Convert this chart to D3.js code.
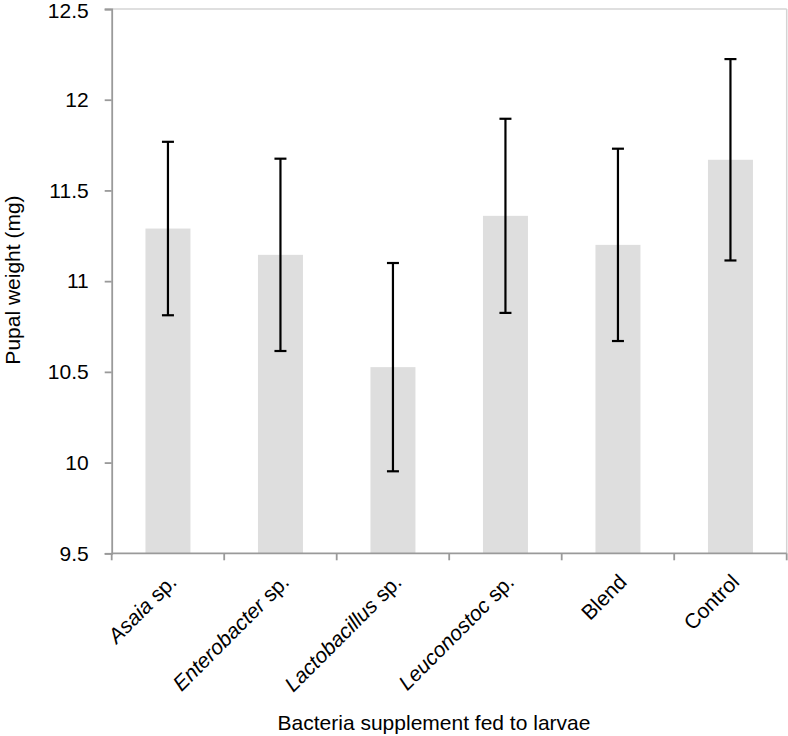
<!DOCTYPE html>
<html>
<head>
<meta charset="utf-8">
<script src="https://cdn.jsdelivr.net/npm/d3@7"></script>
<style>
  html, body { margin: 0; padding: 0; background: #fff; }
  svg { display: block; font-family: "Liberation Sans", Arial, sans-serif; }
</style>
</head>
<body>
<svg id="chart" width="788" height="736"></svg>
<script>
// ---- data ----
const categories = ["Asaia sp.", "Enterobacter sp.", "Lactobacillus sp.", "Leuconostoc sp.", "Blend", "Control"];
const italicParts = ["Asaia", "Enterobacter", "Lactobacillus", "Leuconostoc", "", ""];
const plainParts = [" sp.", " sp.", " sp.", " sp.", "Blend", "Control"];
const means = [11.29, 11.145, 10.526, 11.36, 11.20, 11.669];
const errors = [0.478, 0.53, 0.574, 0.535, 0.53, 0.555];
const yTicks = [9.5, 10, 10.5, 11, 11.5, 12, 12.5];
const yTickLabels = ["9.5", "10", "10.5", "11", "11.5", "12", "12.5"];
const yTitle = "Pupal weight (mg)";
const xTitle = "Bacteria supplement fed to larvae";

// ---- layout ----
const svg = d3.select("#chart");
const mLeft = 111.7, mRight = 786.7, mTop = 9, mBottom = 553.3;
const fontSize = 21;
const axisColor = "#9a9a9a";

const x = d3.scaleBand().domain(categories).range([mLeft, mRight]).paddingInner(0.6).paddingOuter(0.3);
const xTick = d3.scaleBand().domain(categories).range([mLeft, mRight]);
const y = d3.scaleLinear().domain([9.5, 12.5]).range([mBottom, mTop]);

// plot border (top & right)
svg.append("line").attr("x1", mLeft).attr("x2", mRight).attr("y1", mTop).attr("y2", mTop)
  .attr("stroke", "#d4d4d4").attr("stroke-width", 1.5);
svg.append("line").attr("x1", mRight).attr("x2", mRight).attr("y1", mTop).attr("y2", mBottom)
  .attr("stroke", "#d4d4d4").attr("stroke-width", 1.5);

// bars
svg.append("g").selectAll("rect").data(categories).join("rect")
  .attr("x", d => x(d))
  .attr("width", x.bandwidth())
  .attr("y", (d, i) => y(means[i]))
  .attr("height", (d, i) => y(9.5) - y(means[i]))
  .attr("fill", "#dedede");

// error bars
const eb = svg.append("g").attr("stroke", "#000").attr("stroke-width", 2.2);
categories.forEach((c, i) => {
  const cx = x(c) + x.bandwidth() / 2;
  eb.append("line").attr("x1", cx).attr("x2", cx)
    .attr("y1", y(means[i] + errors[i])).attr("y2", y(means[i] - errors[i]));
  [means[i] + errors[i], means[i] - errors[i]].forEach(v => {
    eb.append("line").attr("x1", cx - 6).attr("x2", cx + 6)
      .attr("y1", y(v)).attr("y2", y(v));
  });
});

// y axis
const yAxis = d3.axisLeft(y).tickValues(yTicks)
  .tickFormat((d, i) => yTickLabels[i]).tickSizeOuter(0).tickSize(7).tickPadding(16);
const gy = svg.append("g").attr("transform", `translate(${mLeft},0)`).call(yAxis);
gy.select(".domain").attr("stroke", axisColor).attr("stroke-width", 1.8);
gy.selectAll(".tick line").attr("stroke", axisColor).attr("stroke-width", 1.8);
gy.selectAll(".tick text").attr("fill", "#000").style("font-size", fontSize + "px")
  .style("font-family", "'Liberation Sans', Arial, sans-serif");
// keep top label inside the picture
gy.selectAll(".tick text").filter(d => d === 12.5).attr("dy", "0.42em");

// x axis (tick marks at band boundaries)
svg.append("line").attr("x1", mLeft).attr("x2", mRight).attr("y1", mBottom).attr("y2", mBottom)
  .attr("stroke", axisColor).attr("stroke-width", 1.8);
const bounds = categories.map(c => xTick(c)).concat([mRight]);
svg.append("g").selectAll("line").data(bounds).join("line")
  .attr("x1", d => d).attr("x2", d => d)
  .attr("y1", mBottom).attr("y2", mBottom + 7)
  .attr("stroke", axisColor).attr("stroke-width", 1.8);

// x labels rotated
const lab = svg.append("g");
categories.forEach((c, i) => {
  const cx = x(c) + x.bandwidth() / 2;
  const t = lab.append("text")
    .attr("transform", `translate(${cx + 10},${mBottom + 30}) rotate(-45)`)
    .attr("text-anchor", "end")
    .style("font-size", fontSize + "px")
    .attr("fill", "#000");
  if (italicParts[i]) t.append("tspan").style("font-style", "italic").text(italicParts[i]);
  t.append("tspan").text(plainParts[i]);
});

// axis titles
svg.append("text")
  .attr("transform", `translate(20,280) rotate(-90)`)
  .attr("text-anchor", "middle")
  .style("font-size", fontSize + "px")
  .attr("fill", "#000")
  .text(yTitle);

svg.append("text")
  .attr("x", 434).attr("y", 730)
  .attr("text-anchor", "middle")
  .style("font-size", fontSize + "px")
  .attr("fill", "#000")
  .text(xTitle);
</script>
</body>
</html>
